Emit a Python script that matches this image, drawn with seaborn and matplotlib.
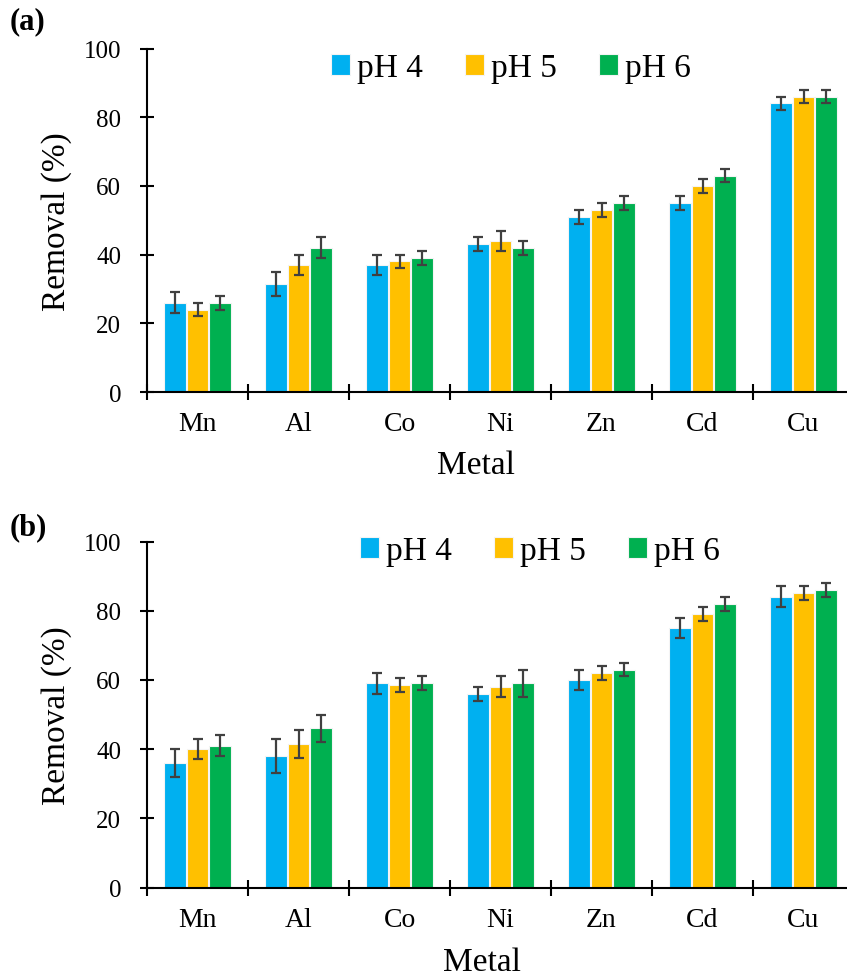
import numpy as np
import pandas as pd
import matplotlib
matplotlib.use("Agg")
import matplotlib.pyplot as plt
import seaborn as sns

# ---------------- data ----------------
metals = ["Mn", "Al", "Co", "Ni", "Zn", "Cd", "Cu"]
ph_levels = ["pH 4", "pH 5", "pH 6"]
colors = ["#00B0F0", "#FFC000", "#00B050"]
yticks = [0, 20, 40, 60, 80, 100]

# panel (a)
a_ph4 = [26, 31.5, 37, 43, 51, 55, 84]
a_ph5 = [24, 37, 38, 44, 53, 60, 86]
a_ph6 = [26, 42, 39, 42, 55, 63, 86]
a_err4 = [3, 3.5, 3, 2, 2, 2, 2]
a_err5 = [2, 3, 2, 3, 2, 2, 2]
a_err6 = [2, 3, 2, 2, 2, 2, 2]

# panel (b)
b_ph4 = [36, 38, 59, 56, 60, 75, 84]
b_ph5 = [40, 41.5, 58.5, 58, 62, 79, 85]
b_ph6 = [41, 46, 59, 59, 63, 82, 86]
b_err4 = [4, 5, 3, 2, 3, 3, 3]
b_err5 = [3, 4, 2, 3, 2, 2, 2]
b_err6 = [3, 4, 2, 4, 2, 2, 2]

panel_labels = ["(a)", "(b)"]
xlabel = "Metal"
ylabel = "Removal (%)"

# ---------------- style ----------------
sns.set_theme(style="white")
plt.rcParams["font.family"] = ["Liberation Serif", "DejaVu Serif"]
plt.rcParams["axes.edgecolor"] = "black"
plt.rcParams["text.color"] = "black"
plt.rcParams["xtick.color"] = "black"
plt.rcParams["ytick.color"] = "black"
plt.rcParams["axes.labelcolor"] = "black"

W, H = 847, 979
fig = plt.figure(figsize=(W / 100, H / 100), dpi=100)


def make_df(v4, v5, v6):
    rows = []
    for lvl, vals in zip(ph_levels, [v4, v5, v6]):
        for m, v in zip(metals, vals):
            rows.append({"Metal": m, "pH": lvl, "Removal": v})
    return pd.DataFrame(rows)


panels = [
    dict(vals=(a_ph4, a_ph5, a_ph6), errs=(a_err4, a_err5, a_err6),
         rect=[147 / W, 1 - 393 / H, 707 / W, 343.5 / H],
         leg=(511 / W, 1 - 69 / H), lab=(10 / W, 1 - 22 / H),
         xlab=((476 - 147) / 707, (393 - 466) / 343.5)),
    dict(vals=(b_ph4, b_ph5, b_ph6), errs=(b_err4, b_err5, b_err6),
         rect=[147 / W, 1 - 888.5 / H, 707 / W, 346 / H],
         leg=(540 / W, 1 - 552 / H), lab=(10 / W, 1 - 528 / H),
         xlab=((482 - 147) / 707, (888.5 - 963) / 346)),
]

for p, plab in zip(panels, panel_labels):
    ax = fig.add_axes(p["rect"])
    df = make_df(*p["vals"])
    sns.barplot(data=df, x="Metal", y="Removal", hue="pH", order=metals,
                hue_order=ph_levels, palette=colors, errorbar=None,
                width=0.67, gap=0.06, edgecolor="#f4f4f4", linewidth=0.8,
                saturation=1, ax=ax)
    # error bars on the drawn bars
    for cont, err in zip(ax.containers, p["errs"]):
        xs = [b.get_x() + b.get_width() / 2 for b in cont]
        ys = [b.get_height() for b in cont]
        ax.errorbar(xs, ys, yerr=err, fmt="none", ecolor="#404040",
                    elinewidth=1.6, capsize=3.6, capthick=1.6, zorder=5)

    ax.set_ylim(0, 100)
    ax.set_xlim(-0.5, len(metals) - 0.5)
    ax.set_yticks(yticks)
    ax.set_yticklabels([str(t) for t in yticks], fontsize=18)
    ax.set_xticks(range(len(metals)))
    ax.set_xticklabels(metals, fontsize=20)
    ax.set_xticks(np.arange(-0.5, len(metals), 1.0), minor=True)
    ax.tick_params(axis="x", which="major", bottom=True, length=0, pad=14)
    ax.tick_params(axis="x", which="minor", bottom=True, direction="inout",
                   length=11, width=1.5, color="black")
    ax.tick_params(axis="y", which="major", left=True, direction="inout",
                   length=10, width=1.5, pad=13.5, color="black")
    for s in ["top", "right"]:
        ax.spines[s].set_visible(False)
    for s in ["left", "bottom"]:
        ax.spines[s].set_linewidth(1.5)
        ax.spines[s].set_color("black")
        ax.spines[s].set_zorder(6)

    ax.set_xlabel(xlabel, fontsize=24)
    ax.set_ylabel(ylabel, fontsize=24)
    ax.xaxis.label.set_va("center")
    ax.yaxis.label.set_va("center")
    ax.xaxis.set_label_coords(*p["xlab"])
    ax.yaxis.set_label_coords((57 - 147) / 707, 0.5)

    sns.move_legend(ax, "center", bbox_to_anchor=p["leg"],
                    bbox_transform=fig.transFigure, ncol=3, frameon=False,
                    title=None, fontsize=24, handlelength=0.57,
                    handleheight=0.57, handletextpad=0.21,
                    columnspacing=1.26, borderpad=0.2)

    fig.text(p["lab"][0], p["lab"][1], plab, fontsize=22, fontweight="bold",
             ha="left", va="center")

fig.savefig("out.png", dpi=100)
